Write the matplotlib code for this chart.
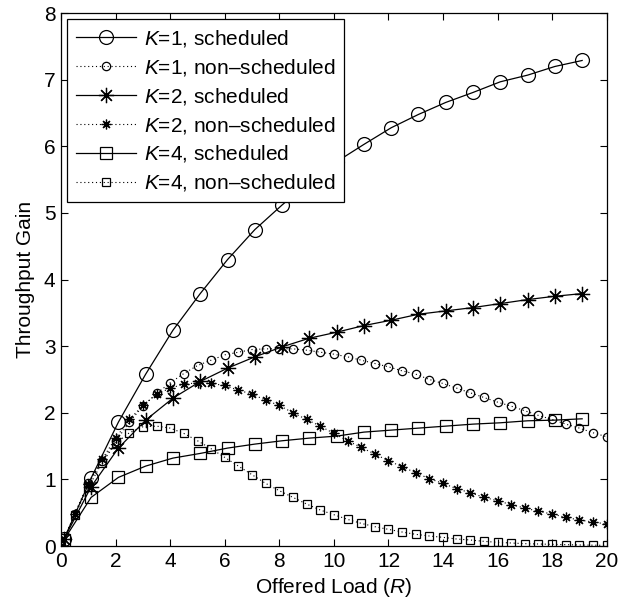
import numpy as np
import matplotlib
matplotlib.use("Agg")
from matplotlib import pyplot as plt

plt.rcParams['font.family'] = ['Liberation Sans', 'DejaVu Sans']
plt.rcParams['mathtext.fontset'] = 'custom'
plt.rcParams['mathtext.rm'] = 'Liberation Sans'
plt.rcParams['mathtext.it'] = 'Liberation Sans:italic'

# scheduled: offered load 0.1, 1.1, ..., 19.1
x_sched = [0.1, 1.1, 2.1, 3.1, 4.1, 5.1, 6.1, 7.1, 8.1, 9.1, 10.1,
           11.1, 12.1, 13.1, 14.1, 15.1, 16.1, 17.1, 18.1, 19.1]
k1_sched = [0.10, 1.02, 1.86, 2.58, 3.24, 3.79, 4.30, 4.75, 5.12, 5.47, 5.77,
            6.03, 6.28, 6.48, 6.66, 6.81, 6.97, 7.07, 7.20, 7.29]
k2_sched = [0.10, 0.89, 1.47, 1.89, 2.22, 2.47, 2.67, 2.84, 2.99, 3.12, 3.21,
            3.31, 3.39, 3.48, 3.53, 3.58, 3.64, 3.70, 3.75, 3.79]
k4_sched = [0.09, 0.73, 1.03, 1.20, 1.32, 1.39, 1.47, 1.53, 1.58, 1.62, 1.65,
            1.71, 1.74, 1.77, 1.80, 1.83, 1.85, 1.88, 1.89, 1.91]

# non-scheduled: offered load 0, 0.5, ..., 20
x_nonsched = [0.0, 0.5, 1.0, 1.5, 2.0, 2.5, 3.0, 3.5, 4.0, 4.5, 5.0,
              5.5, 6.0, 6.5, 7.0, 7.5, 8.0, 8.5, 9.0, 9.5, 10.0,
              10.5, 11.0, 11.5, 12.0, 12.5, 13.0, 13.5, 14.0, 14.5, 15.0,
              15.5, 16.0, 16.5, 17.0, 17.5, 18.0, 18.5, 19.0, 19.5, 20.0]
k1_nonsched = [0.0, 0.48, 0.95, 1.28, 1.57, 1.86, 2.10, 2.29, 2.45, 2.59, 2.71,
               2.79, 2.87, 2.91, 2.95, 2.96, 2.96, 2.96, 2.94, 2.91, 2.88,
               2.84, 2.79, 2.74, 2.69, 2.63, 2.58, 2.50, 2.44, 2.37, 2.30,
               2.23, 2.16, 2.10, 2.03, 1.96, 1.90, 1.83, 1.77, 1.70, 1.64]
k2_nonsched = [0.0, 0.48, 0.93, 1.30, 1.62, 1.90, 2.11, 2.28, 2.37, 2.43, 2.45,
               2.44, 2.41, 2.34, 2.28, 2.19, 2.11, 2.00, 1.90, 1.80, 1.69,
               1.58, 1.48, 1.38, 1.28, 1.19, 1.10, 1.01, 0.94, 0.86, 0.80,
               0.73, 0.68, 0.62, 0.57, 0.52, 0.48, 0.43, 0.39, 0.36, 0.33]
k4_nonsched = [0.0, 0.47, 0.88, 1.25, 1.54, 1.70, 1.79, 1.80, 1.77, 1.69, 1.58,
               1.46, 1.33, 1.20, 1.07, 0.94, 0.83, 0.73, 0.63, 0.54, 0.47,
               0.40, 0.34, 0.29, 0.25, 0.21, 0.175, 0.15, 0.13, 0.105, 0.09,
               0.07, 0.055, 0.045, 0.035, 0.03, 0.025, 0.02, 0.015, 0.012, 0.01]

fig = plt.figure(figsize=(6.3, 6.0), dpi=100)
ax = fig.add_axes([0.097, 0.09, 0.866, 0.888])

ast = (8, 2, 0)
lw = 0.9
big = dict(mfc='none', mec='black', mew=0.9, color='black', lw=lw)
small = dict(mfc='none', mec='black', mew=0.9, color='black', lw=0.8, ls=(0, (1, 2.5)))

ax.plot(x_sched, k1_sched, marker='o', ms=10, label='$K$=1, scheduled', **big)
ax.plot(x_nonsched, k1_nonsched, marker='o', ms=6, label='$K$=1, non\u2013scheduled', **small)
ax.plot(x_sched, k2_sched, marker=ast, ms=11, label='$K$=2, scheduled', **big)
ax.plot(x_nonsched, k2_nonsched, marker=ast, ms=7, label='$K$=2, non\u2013scheduled', **small)
ax.plot(x_sched, k4_sched, marker='s', ms=9, label='$K$=4, scheduled', **big)
ax.plot(x_nonsched, k4_nonsched, marker='s', ms=5.5, label='$K$=4, non\u2013scheduled', **small)

fs = 15
ax.set_xlim(0, 20)
ax.set_ylim(0, 8)
ax.set_xticks(np.arange(0, 21, 2))
ax.set_yticks(np.arange(0, 9, 1))
ax.tick_params(direction='in', top=True, right=True, labelsize=fs, length=5, width=0.8, pad=4)
for s in ax.spines.values():
    s.set_linewidth(0.9)
ax.set_xlabel('Offered Load ($R$)', fontsize=fs, labelpad=4)
ax.set_ylabel('Throughput Gain', fontsize=fs, labelpad=6)

leg = ax.legend(loc='upper left', fontsize=fs, handlelength=2.9, labelspacing=0.38,
                fancybox=False, framealpha=1, edgecolor='black', borderaxespad=0.3,
                handletextpad=0.4, borderpad=0.4)
leg.get_frame().set_linewidth(0.9)

fig.savefig('out.png', dpi=100)
